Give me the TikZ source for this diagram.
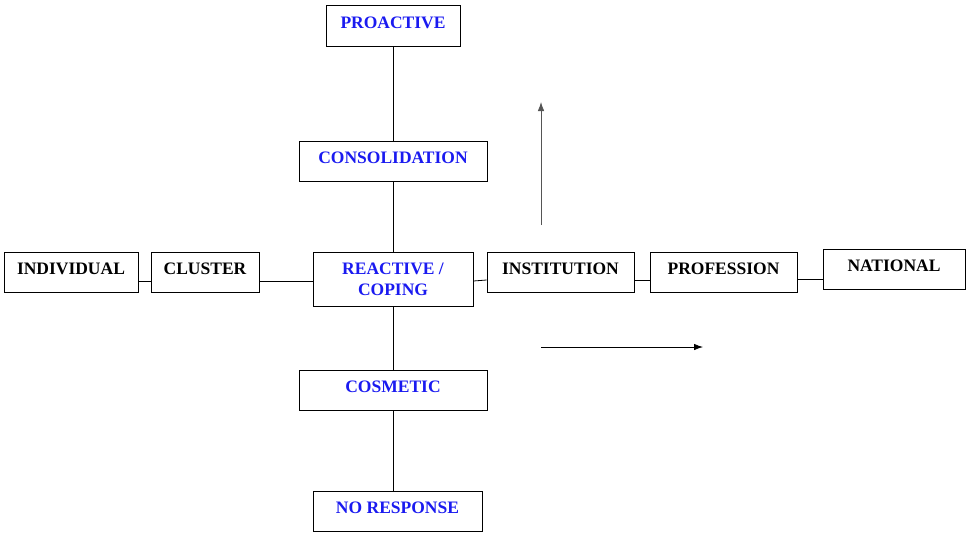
\documentclass[tikz,border=0pt]{standalone}
\usepackage{fontspec}
\setmainfont{Liberation Serif}
\usepackage{tikz}
\usetikzlibrary{arrows,arrows.meta}
\tikzset{>={Latex[length=9pt,width=6.5pt]}}
\usepackage{xcolor}
\definecolor{b1}{HTML}{1A1AF0}
\definecolor{g1}{HTML}{555555}
\tikzstyle{stage}=[draw,line width=0.8pt,inner sep=0pt,minimum height=40pt,
  text depth=6pt,font=\fontsize{17.5}{21}\selectfont\bfseries]
\tikzstyle{level}=[stage,text=b1]
\tikzstyle{link}=[line width=0.8pt]

\begin{document}
\begin{tikzpicture}[x=1pt,y=-1pt]
  \useasboundingbox (0,0) rectangle (966,533);
  % vertical: levels of response
  \node[level,minimum width=134pt,minimum height=41pt] (pro) at (393,25.5) {PROACTIVE};
  \node[level,minimum width=188pt] (con) at (393,161) {CONSOLIDATION};
  \node[level,minimum width=160pt,minimum height=54pt,text depth=0pt,align=center]
       (rea) at (393,279) {REACTIVE /\\COPING};
  \node[level,minimum width=188pt] (cos) at (393,390) {COSMETIC};
  \node[level,minimum width=169pt] (nor) at (397.5,511) {NO RESPONSE};
  % horizontal: scope
  \node[stage,minimum width=134pt] (ind) at (71,272) {INDIVIDUAL};
  \node[stage,minimum width=108pt] (clu) at (205,272) {CLUSTER};
  \node[stage,minimum width=147pt] (ins) at (560.5,272) {INSTITUTION};
  \node[stage,minimum width=147pt] (prf) at (723.5,272) {PROFESSION};
  \node[stage,minimum width=142pt] (nat) at (894,269) {NATIONAL};
  \draw[link] (pro.south) -- (con.north);
  \draw[link] (con.south) -- (rea.north);
  \draw[link] (rea.south) -- (cos.north);
  \draw[link] (cos.south) -- (cos.south |- nor.north);
  \draw[link] ([yshift=-9pt]ind.east) -- ([yshift=-9pt]clu.west);
  \draw[link] ([yshift=-9pt]clu.east) -- ([yshift=-2pt]rea.west);
  \draw[link] ([yshift=-2pt]rea.east) -- ([yshift=-8pt]ins.west);
  \draw[link] ([yshift=-8pt]ins.east) -- ([yshift=-8pt]prf.west);
  \draw[link] ([yshift=-7pt]prf.east) -- ([yshift=-10pt]nat.west);
  % direction arrows
  \coordinate (upS) at (541,225);
  \coordinate (upE) at (541,102);
  \coordinate (rtS) at (541,347);
  \coordinate (rtE) at (703,347);
  \draw[link,g1,->] (upS) -- (upE);
  \draw[link,->] (rtS) -- (rtE);
\end{tikzpicture}
\end{document}
